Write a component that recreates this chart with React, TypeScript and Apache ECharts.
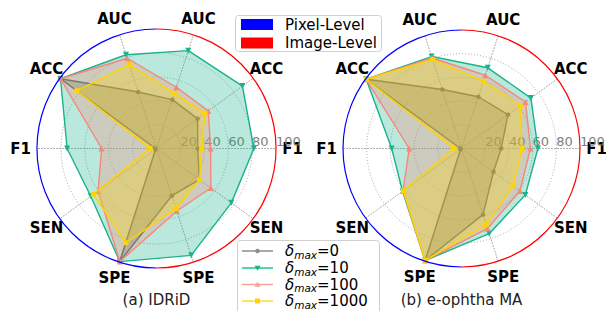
import React, { useEffect, useRef } from 'react';
import * as echarts from 'echarts';

// Axis order: counter-clockwise starting at the right (Image-Level on the right half, Pixel-Level on the left half)
const indicatorNames = ['F1', 'ACC', 'AUC', 'AUC', 'ACC', 'F1', 'SEN', 'SPE', 'SPE', 'SEN'];
const radialMin = 0;
const radialMax = 100;
const radialSplits = 5;
const deltaLabels = ['0', '10', '100', '1000'];
const seriesNames = deltaLabels.map((d) => `δmax=${d}`);
const levelNames = ['Pixel-Level', 'Image-Level'];
const captions = ['(a) IDRiD', '(b) e-ophtha MA'];

// (a) IDRiD
const idridDelta0 = [34.5, 42.5, 43.0, 49.7, 99.3, 1.0, 1.0, 99.5, 41.6, 44.3];
const idridDelta10 = [81.5, 88.9, 86.1, 82.5, 99.3, 74.8, 68.0, 99.5, 94.0, 77.4];
const idridDelta100 = [45.3, 53.5, 53.9, 79.4, 99.3, 45.9, 60.4, 99.5, 55.0, 56.2];
const idridDelta1000 = [37.8, 50.1, 48.5, 73.8, 82.3, 5.6, 65.3, 83.0, 52.8, 44.5];

// (b) e-ophtha MA
const ophthaDelta0 = [33.5, 48.5, 45.9, 52.3, 99.4, 1.0, 1.0, 99.4, 58.7, 33.4];
const ophthaDelta10 = [64.5, 72.4, 71.6, 81.6, 99.4, 58.9, 61.5, 99.4, 75.6, 66.6];
const ophthaDelta100 = [58.2, 66.8, 65.0, 80.3, 99.4, 44.1, 61.0, 99.4, 71.0, 61.0];
const ophthaDelta1000 = [51.0, 61.4, 59.8, 79.0, 99.4, 6.6, 60.6, 99.2, 67.6, 53.6];

const panels = [
  [idridDelta0, idridDelta10, idridDelta100, idridDelta1000],
  [ophthaDelta0, ophthaDelta10, ophthaDelta100, ophthaDelta1000],
];

// styles
const FONT = 'DejaVu Sans';
const CX = [156.5, 461.5];
const CY = 148.5;
const RAD = [119.5, 118.5];
const lineColors = ['#555555', '#1bb38a', '#f8877a', '#ffd400'];
const legendLineColors = ['#8c8c8c', '#22c28e', '#f9a397', '#ffdc2e'];
const symbols = ['circle', 'path://M0,0L10,0L5,8.66Z', 'triangle', 'rect'];
const symbolSizes = [4.5, 6, 6, 5];
const gridColor = '#9c9c9c';

export default function App() {
  const ref = useRef<HTMLDivElement>(null);

  useEffect(() => {
    if (!ref.current) return;
    const chart = echarts.init(ref.current, undefined, { renderer: 'svg' });

    const makeRadar = (p: number) => ({
      center: [CX[p], CY],
      radius: RAD[p],
      startAngle: 0,
      shape: 'circle',
      splitNumber: radialSplits,
      indicator: indicatorNames.map((name, i) => {
        const ind: any = { name, min: radialMin, max: radialMax, nameMoveOverlap: false };
        if (i === 0) ind.axisLabel = { show: true };
        return ind;
      }),
      axisName: {
        color: '#000',
        fontWeight: 'bold',
        fontSize: 15,
        fontFamily: FONT,
        align: 'center',
        verticalAlign: 'middle',
      },
      nameGap: 16.5,
      axisLine: { lineStyle: { color: gridColor, type: [1, 2], width: 0.9 } },
      splitLine: {
        lineStyle: {
          color: [gridColor, gridColor, gridColor, gridColor, gridColor, 'rgba(0,0,0,0)'],
          type: [1, 2],
          width: 0.9,
        },
      },
      splitArea: { show: false },
      axisTick: { show: false },
      axisLabel: {
        show: false,
        color: '#808080',
        fontSize: 13,
        fontFamily: FONT,
        margin: 1,
        align: 'left',
        showMinLabel: false,
        formatter: (v: number) => (v === 0 ? '' : String(v)),
      },
    });

    const series: any[] = [];
    panels.forEach((sets, p) => {
      sets.forEach((vals, k) => {
        series.push({
          type: 'radar',
          radarIndex: p,
          name: seriesNames[k],
          symbol: symbols[k],
          symbolSize: symbolSizes[k],
          z: 2 + k,
          lineStyle: { color: lineColors[k], width: 1.4 },
          itemStyle: { color: lineColors[k] },
          areaStyle: { color: lineColors[k], opacity: 0.3 },
          data: [{ value: vals, name: seriesNames[k] }],
        });
      });
    });

    const graphic: any[] = [];
    // outer ring: blue on the Pixel-Level half, red on the Image-Level half
    [0, 1].forEach((p) => {
      graphic.push({
        type: 'arc',
        z: 50,
        shape: { cx: CX[p], cy: CY, r: RAD[p], startAngle: Math.PI / 2, endAngle: (Math.PI * 3) / 2, clockwise: true },
        style: { stroke: '#0000ff', lineWidth: 1.2, fill: null },
      });
      graphic.push({
        type: 'arc',
        z: 50,
        shape: { cx: CX[p], cy: CY, r: RAD[p], startAngle: -Math.PI / 2, endAngle: Math.PI / 2, clockwise: true },
        style: { stroke: '#ff0000', lineWidth: 1.2, fill: null },
      });
      graphic.push({
        type: 'text',
        z: 50,
        x: CX[p],
        y: 300,
        style: { text: captions[p], fontSize: 15, fontFamily: FONT, fill: '#222', align: 'center', verticalAlign: 'middle' },
      });
    });

    // level legend
    graphic.push({
      type: 'rect',
      z: 60,
      shape: { x: 235.5, y: 15.5, width: 146, height: 36, r: 3 },
      style: { fill: 'rgba(255,255,255,0.8)', stroke: '#cfcfcf', lineWidth: 1 },
    });
    const levelColors = ['#0000ff', '#ff0000'];
    const levelY = [24.5, 43];
    levelNames.forEach((nm, i) => {
      graphic.push({
        type: 'rect',
        z: 61,
        shape: { x: 241, y: levelY[i] - 5.5, width: 32, height: 11 },
        style: { fill: levelColors[i] },
      });
      graphic.push({
        type: 'text',
        z: 61,
        x: 285,
        y: levelY[i],
        style: { text: nm, fontSize: 15, fontFamily: FONT, fill: '#000', verticalAlign: 'middle' },
      });
    });

    // delta legend
    graphic.push({
      type: 'rect',
      z: 60,
      shape: { x: 237.5, y: 240.5, width: 142, height: 80, r: 3 },
      style: { fill: 'rgba(255,255,255,0.8)', stroke: '#cfcfcf', lineWidth: 1 },
    });
    const rowY = [251, 268, 284.5, 301];
    const mx = 257.5;
    deltaLabels.forEach((d, k) => {
      const y = rowY[k];
      graphic.push({
        type: 'line',
        z: 61,
        shape: { x1: 242, y1: y, x2: 273, y2: y },
        style: { stroke: legendLineColors[k], lineWidth: 1.5 },
      });
      if (k === 0) {
        graphic.push({ type: 'circle', z: 62, shape: { cx: mx, cy: y, r: 2.2 }, style: { fill: legendLineColors[k] } });
      } else if (k === 1) {
        graphic.push({
          type: 'polygon',
          z: 62,
          shape: { points: [[mx - 3, y - 2.3], [mx + 3, y - 2.3], [mx, y + 2.7]] },
          style: { fill: lineColors[k] },
        });
      } else if (k === 2) {
        graphic.push({
          type: 'polygon',
          z: 62,
          shape: { points: [[mx - 3, y + 2.3], [mx + 3, y + 2.3], [mx, y - 2.7]] },
          style: { fill: legendLineColors[k] },
        });
      } else {
        graphic.push({ type: 'rect', z: 62, shape: { x: mx - 2.5, y: y - 2.5, width: 5, height: 5 }, style: { fill: lineColors[k] } });
      }
      graphic.push({
        type: 'text',
        z: 62,
        x: 285,
        y: y,
        style: {
          text: `{d|δ}{s|max}{n|=${d}}`,
          verticalAlign: 'middle',
          fontFamily: FONT,
          fill: '#000',
          rich: {
            d: { fontStyle: 'italic', fontSize: 15, fontFamily: FONT, lineHeight: 18, fill: '#000' },
            s: { fontStyle: 'italic', fontSize: 10.5, fontFamily: FONT, lineHeight: 10, verticalAlign: 'bottom', fill: '#000' },
            n: { fontSize: 15, fontFamily: FONT, lineHeight: 18, fill: '#000' },
          },
        },
      });
    });

    chart.setOption({
      animation: false,
      textStyle: { fontFamily: FONT },
      radar: [makeRadar(0), makeRadar(1)],
      series,
      graphic,
    });

    return () => chart.dispose();
  }, []);

  return (
    <div
      ref={ref}
      style={{ position: 'absolute', left: 0, top: 0, width: 606, height: 311, background: '#fff' }}
    />
  );
}
